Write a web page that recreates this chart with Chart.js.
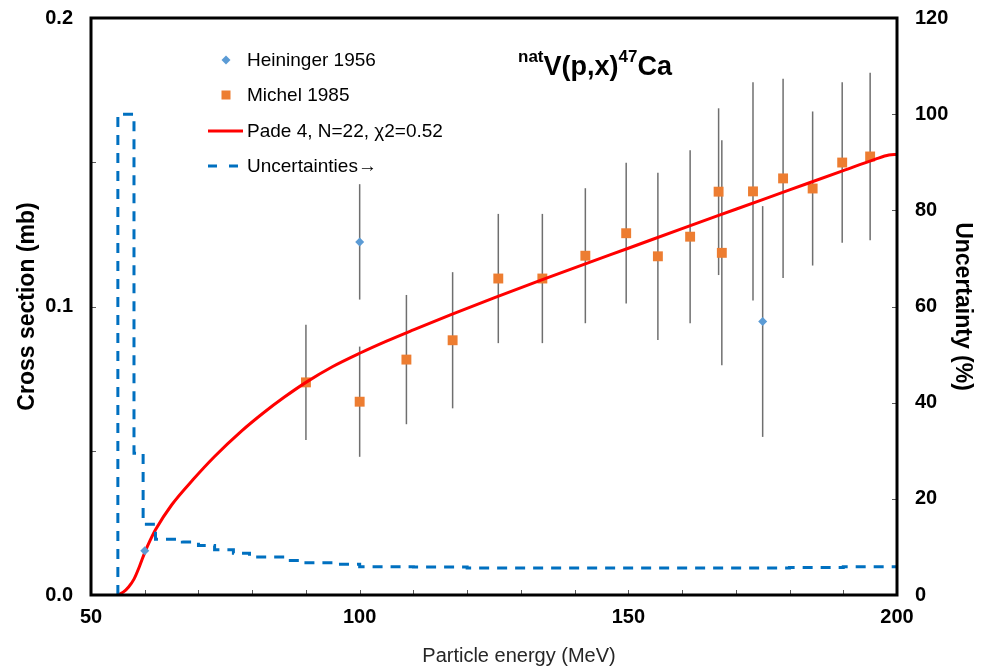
<!DOCTYPE html>
<html>
<head>
<meta charset="utf-8">
<script src="https://cdn.jsdelivr.net/npm/chart.js@4.4.1/dist/chart.umd.min.js"></script>
<style>
  body { margin: 0; background: #fff; }
  #wrap { width: 989px; height: 670px; }
</style>
</head>
<body>
<div id="wrap"><canvas id="myChart"></canvas></div>
<script>
// Heininger 1956
const heinE = [60, 100, 175];
const heinXS = [0.0153, 0.1224, 0.0948];
const heinErr = [0, 0.020, 0.040];

// Michel 1985
const michE = [90, 100, 108.7, 117.3, 125.8, 134, 142, 149.6, 155.5, 161.5, 166.8, 167.4, 173.2, 178.8, 184.3, 189.8, 195];
const michXS = [0.0737, 0.0670, 0.0816, 0.0883, 0.1097, 0.1097, 0.1176, 0.1254, 0.1174, 0.1242, 0.1398, 0.1186, 0.1399, 0.1444, 0.1409, 0.1499, 0.1520];
const michErr = [0.0200, 0.0191, 0.0224, 0.0236, 0.0224, 0.0224, 0.0234, 0.0244, 0.0290, 0.0300, 0.0289, 0.0390, 0.0378, 0.0345, 0.0267, 0.0278, 0.0290];

// Pade fit
const fitE = [55, 56, 57, 58, 59, 60, 61, 62, 65, 69, 73, 78, 82, 86, 90, 95, 100, 105, 110, 117, 125, 134, 142, 150, 160, 170, 180, 190, 196, 198.5, 200];
const fitXS = [0, 0.0010, 0.0028, 0.0055, 0.0098, 0.0147, 0.0189, 0.0226, 0.0312, 0.0400, 0.0480, 0.0568, 0.0630, 0.0686, 0.0737, 0.0792, 0.0838, 0.0880, 0.0919, 0.0972, 0.1030, 0.1093, 0.1148, 0.1202, 0.1270, 0.1337, 0.1404, 0.1471, 0.1511, 0.1525, 0.1527];

// Uncertainties (%), right axis
const uncE = [55, 55, 58, 59.7, 62, 67, 70, 73, 76.5, 79.5, 86, 90, 96, 100, 110, 120, 180, 190, 200];
const uncPct = [0, 100, 29.5, 14.7, 11.6, 11.0, 10.3, 9.4, 8.7, 7.9, 7.2, 6.7, 6.4, 5.9, 5.8, 5.6, 5.7, 5.9, 6.0];

const xTickLabels = [50, 100, 150, 200];
const xTitle = 'Particle energy (MeV)';

const FONT = 'Arial, "Liberation Sans", sans-serif';

const toXY = (xs, ys) => xs.map((x, i) => ({ x: x, y: ys[i] }));

// error bars, drawn behind the markers
const errorBars = {
    id: 'errorBars',
    beforeDatasetsDraw(chart) {
        const { ctx, scales: { x, y } } = chart;
        ctx.save();
        ctx.strokeStyle = '#6f6f6f';
        ctx.lineWidth = 1.5;
        const draw = (es, vs, errs) => {
            es.forEach((e, i) => {
                if (!errs[i]) return;
                const px = x.getPixelForValue(e);
                ctx.beginPath();
                ctx.moveTo(px, y.getPixelForValue(vs[i] - errs[i]));
                ctx.lineTo(px, y.getPixelForValue(vs[i] + errs[i]));
                ctx.stroke();
            });
        };
        draw(heinE, heinXS, heinErr);
        draw(michE, michXS, michErr);
        ctx.restore();
    }
};

// frame, inside tick marks, legend, title and x axis title
const decorations = {
    id: 'decorations',
    afterDraw(chart) {
        const { ctx, chartArea: a, scales } = chart;
        ctx.save();

        // small tick marks pointing into the plot
        ctx.strokeStyle = '#595959';
        ctx.lineWidth = 1;
        scales.x.ticks.forEach(t => {
            const px = Math.round(scales.x.getPixelForValue(t.value)) + 0.5;
            ctx.beginPath(); ctx.moveTo(px, a.bottom); ctx.lineTo(px, a.bottom - 5); ctx.stroke();
        });
        scales.y.ticks.forEach(t => {
            const py = Math.round(scales.y.getPixelForValue(t.value)) + 0.5;
            ctx.beginPath(); ctx.moveTo(a.left, py); ctx.lineTo(a.left + 5, py); ctx.stroke();
        });
        scales.y1.ticks.forEach(t => {
            const py = Math.round(scales.y1.getPixelForValue(t.value)) + 0.5;
            ctx.beginPath(); ctx.moveTo(a.right, py); ctx.lineTo(a.right - 5, py); ctx.stroke();
        });

        // plot frame
        ctx.strokeStyle = '#000';
        ctx.lineWidth = 3;
        ctx.strokeRect(a.left, a.top, a.right - a.left, a.bottom - a.top);

        // legend
        const lx = 226, tx = 247;
        const rows = [60, 95, 131, 166];
        ctx.fillStyle = '#5B9BD5';
        ctx.beginPath();
        ctx.moveTo(lx, rows[0] - 4.5); ctx.lineTo(lx + 4.5, rows[0]);
        ctx.lineTo(lx, rows[0] + 4.5); ctx.lineTo(lx - 4.5, rows[0]);
        ctx.closePath(); ctx.fill();
        ctx.fillStyle = '#ED7D31';
        ctx.fillRect(lx - 4.5, rows[1] - 4.5, 9, 9);
        ctx.strokeStyle = '#FF0000';
        ctx.lineWidth = 3;
        ctx.beginPath(); ctx.moveTo(208, rows[2]); ctx.lineTo(243, rows[2]); ctx.stroke();
        ctx.strokeStyle = '#0070C0';
        ctx.setLineDash([9, 12]);
        ctx.beginPath(); ctx.moveTo(208, rows[3]); ctx.lineTo(238, rows[3]); ctx.stroke();
        ctx.setLineDash([]);

        ctx.fillStyle = '#000';
        ctx.font = '19px ' + FONT;
        ctx.textBaseline = 'middle';
        ctx.textAlign = 'left';
        const names = chart.data.datasets.map(d => d.label);
        rows.forEach((ry, i) => ctx.fillText(names[i], tx, ry + 1));

        // title with superscripts
        ctx.textBaseline = 'alphabetic';
        const parts = [['nat', true], ['V(p,x)', false], ['47', true], ['Ca', false]];
        let cx = 518;
        parts.forEach(([s, sup]) => {
            ctx.font = (sup ? 'bold 17px ' : 'bold 27px ') + FONT;
            ctx.fillText(s, cx, sup ? 62 : 75);
            cx += ctx.measureText(s).width;
        });

        // x axis title (sits a little right of the plot centre)
        ctx.fillStyle = '#262626';
        ctx.font = '20px ' + FONT;
        ctx.textAlign = 'center';
        ctx.textBaseline = 'middle';
        ctx.fillText(xTitle, 519, 656);
        ctx.restore();
    }
};

const ctx = document.getElementById('myChart').getContext('2d');

const data = {
    datasets: [{
        label: 'Heininger 1956',
        data: toXY(heinE, heinXS),
        pointStyle: 'rectRot',
        pointRadius: 4.5,
        backgroundColor: '#5B9BD5',
        borderColor: '#5B9BD5',
        borderWidth: 0,
        showLine: false,
        order: 0
    }, {
        label: 'Michel 1985',
        data: toXY(michE, michXS),
        pointStyle: 'rect',
        pointRadius: 7,
        backgroundColor: '#ED7D31',
        borderColor: '#ED7D31',
        borderWidth: 0,
        showLine: false,
        order: 3
    }, {
        label: 'Pade 4, N=22, χ2=0.52',
        data: toXY(fitE, fitXS),
        showLine: true,
        pointRadius: 0,
        borderColor: '#FF0000',
        borderWidth: 3,
        cubicInterpolationMode: 'monotone',
        order: 2
    }, {
        label: 'Uncertainties→',
        data: toXY(uncE, uncPct),
        yAxisID: 'y1',
        showLine: true,
        stepped: true,
        pointRadius: 0,
        borderColor: '#0070C0',
        borderWidth: 3,
        borderDash: [10, 8],
        order: 1
    }]
};

const config = {
    type: 'scatter',
    data: data,
    options: {
        responsive: true,
        maintainAspectRatio: false,
        animation: false,
        layout: { padding: { top: 18, left: 0, right: 0, bottom: 0 } },
        plugins: {
            legend: { display: false },
            tooltip: { enabled: false }
        },
        scales: {
            x: {
                type: 'linear',
                min: 50,
                max: 200,
                grid: { display: false, drawTicks: false },
                border: { display: false },
                ticks: {
                    stepSize: 10,
                    padding: 10,
                    maxRotation: 0,
                    autoSkip: false,
                    color: '#000',
                    font: { family: FONT, size: 20, weight: 'bold' },
                    callback: v => xTickLabels.includes(v) ? v : ''
                },
                afterFit: s => { s.height = 75; s.paddingLeft = 0; s.paddingRight = 0; }
            },
            y: {
                position: 'left',
                min: 0,
                max: 0.2,
                grid: { display: false, drawTicks: false },
                border: { display: false },
                ticks: {
                    stepSize: 0.05,
                    padding: 18,
                    autoSkip: false,
                    color: '#000',
                    font: { family: FONT, size: 20, weight: 'bold' },
                    callback: v => Math.abs(v * 10 - Math.round(v * 10)) < 1e-6 ? v.toFixed(1) : ''
                },
                title: {
                    display: true,
                    text: 'Cross section (mb)',
                    color: '#000',
                    font: { family: FONT, size: 23, weight: 'bold', lineHeight: 1 },
                    padding: { top: 16, bottom: 0 }
                },
                afterFit: s => { s.width = 91; s.paddingTop = 0; s.paddingBottom = 0; }
            },
            y1: {
                position: 'right',
                min: 0,
                max: 120,
                grid: { display: false, drawTicks: false },
                border: { display: false },
                ticks: {
                    stepSize: 20,
                    padding: 18,
                    color: '#000',
                    font: { family: FONT, size: 20, weight: 'bold' }
                },
                title: {
                    display: true,
                    text: 'Uncertainty (%)',
                    color: '#000',
                    font: { family: FONT, size: 23, weight: 'bold', lineHeight: 1 },
                    padding: { top: 15, bottom: 0 }
                },
                afterFit: s => { s.width = 92; s.paddingTop = 0; s.paddingBottom = 0; }
            }
        }
    },
    plugins: [errorBars, decorations]
};

const myChart = new Chart(ctx, config);
</script>
</body>
</html>
